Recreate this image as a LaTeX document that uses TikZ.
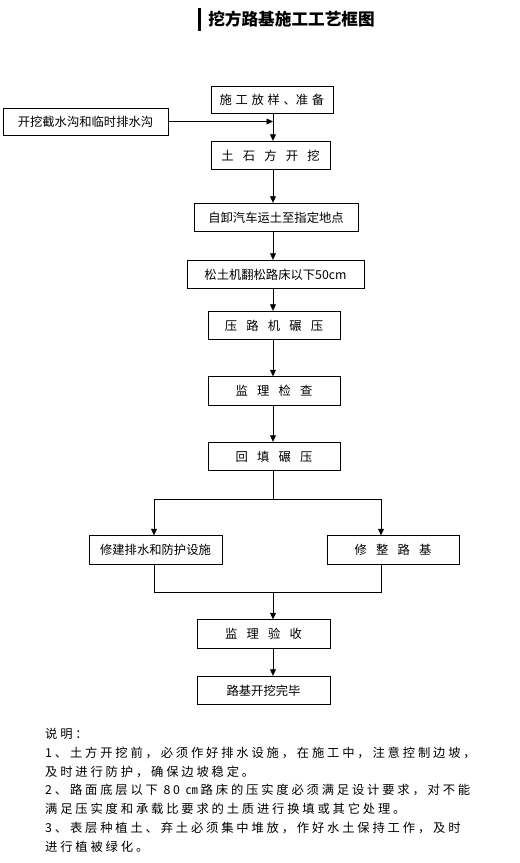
\documentclass[tikz,border=0pt]{standalone}
\usepackage{fontspec}
\setmainfont{Noto Sans CJK SC}
\newfontfamily\notefont[LetterSpace=23]{Noto Sans CJK SC}
\usetikzlibrary{arrows.meta, positioning, calc}

\newcommand\gp{\hspace{0.75em}}
\newcommand\gs{\hspace{0.3em}}

\begin{document}
\begin{tikzpicture}[
  every node/.style={font=\fontsize{10.5pt}{12pt}\selectfont},
  box/.style={draw, line width=0.6pt, minimum height=0.86cm,
    minimum width=3.96cm, inner sep=2pt, align=center},
  arr/.style={line width=0.6pt, -{Triangle[length=5.5pt,width=5pt]}},
  link/.style={line width=0.6pt},
]

% Page
\fill[white] (0,0) rectangle (15.6,-25.89);
\useasboundingbox (0,0) rectangle (15.6,-25.89);

% Title
\node[font=\fontsize{14.2pt}{17pt}\selectfont\bfseries] (title) at (8.745,-0.585)
  {挖方路基施工工艺框图};
\draw[line width=2pt] ([xshift=-4pt,yshift=-1pt]title.north west)
  -- ([xshift=-4pt,yshift=1pt]title.south west);

% Main column
\coordinate (spine) at (8.19,0);
\node[box, minimum width=3.66cm, minimum height=0.81cm] (fy) at (8.16,-2.985)
  {施\gs 工\gs 放\gs 样\gs 、准\gs 备};
\node[box, minimum width=4.95cm, minimum height=0.81cm] (jsg) at (2.565,-3.645)
  {开挖截水沟和临时排水沟};
\node[box, minimum width=3.57cm] (tsf) at (8.115,-4.665)
  {土\gp 石\gp 方\gp 开\gp 挖};
\node[box, minimum width=4.92cm] (ys) at (8.28,-6.525)
  {自卸汽车运土至指定地点};
\node[box, minimum width=5.31cm] (fs) at (8.265,-8.235)
  {松土机翻松路床以下50cm};
\node[box] (ylj) at (8.22,-9.765)
  {压\gp 路\gp 机\gp 碾\gp 压};
\node[box] (jljc) at (8.22,-11.73)
  {监\gp 理\gp 检\gp 查};
\node[box] (htny) at (8.22,-13.695)
  {回\gp 填\gp 碾\gp 压};

% Two branches
\node[box, minimum width=3.99cm] (xj) at (4.665,-16.5)
  {修建排水和防护设施};
\node[box] (xz) at (11.79,-16.5)
  {修\gp 整\gp 路\gp 基};
\coordinate (split) at (8.19,-14.97);
\coordinate (lb) at (4.62,-14.97);
\coordinate (rb) at (11.43,-14.97);
\coordinate (merge) at (8.19,-17.76);

% End
\node[box, minimum width=3.99cm] (jlys) at (7.905,-19.02)
  {监\gp 理\gp 验\gp 收};
\node[box, minimum width=3.99cm] (wb) at (7.905,-20.715)
  {路基开挖完毕};

% Connectors
\draw[arr] (fy.south -| spine) -- (tsf.north -| spine);
\draw[arr] (jsg.east) -- (jsg.east -| spine);
\draw[arr] (tsf.south -| spine) -- (ys.north -| spine);
\draw[arr] (ys.south -| spine) -- (fs.north -| spine);
\draw[arr] (fs.south -| spine) -- (ylj.north -| spine);
\draw[arr] (ylj.south -| spine) -- (jljc.north -| spine);
\draw[arr] (jljc.south -| spine) -- (htny.north -| spine);
\draw[link] (htny.south -| spine) -- (split);
\draw[link] (lb) -- (rb);
\draw[arr] (lb) -- (xj.north -| lb);
\draw[arr] (rb) -- (xz.north -| rb);
\draw[link] (xj.south -| lb) -- (merge -| lb) -- (merge -| rb) -- (xz.south -| rb);
\draw[arr] (merge) -- (jlys.north -| spine);
\draw[arr] (jlys.south -| spine) -- (wb.north -| spine);

% Notes
\node[anchor=north west, inner sep=0pt, align=left,
  font=\notefont\fontsize{10.5pt}{16pt}\selectfont] (notes) at (1.35,-21.84)
  {说明：\\
   1、土方开挖前，必须作好排水设施，在施工中，注意控制边坡，\\
   及时进行防护，确保边坡稳定。\\
   2、路面底层以下 80 ㎝路床的压实度必须满足设计要求，对不能\\
   满足压实度和承载比要求的土质进行换填或其它处理。\\
   3、表层种植土、弃土必须集中堆放，作好水土保持工作，及时\\
   进行植被绿化。};

\end{tikzpicture}
\end{document}
